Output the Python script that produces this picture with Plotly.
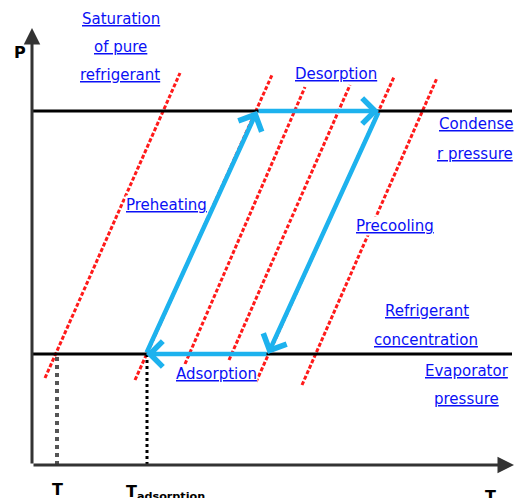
import plotly.graph_objects as go

# Schematic P-T (Clapeyron) diagram of an adsorption refrigeration cycle.
# Temperature and pressure are in arbitrary units.

P_COND = 354   # condenser pressure
P_EVAP = 111   # evaporator pressure
T_MAX = 480    # end of the temperature axis
P_MAX = 437    # end of the pressure axis

# isosteres (constant refrigerant concentration): lower and upper ends
iso_T0 = [13, 103, 153, 197, 224, 270]
iso_P0 = [87, 85, 101, 105, 83, 80]
iso_T1 = [148, 240, 273, 318, 362, 405]
iso_P1 = [392, 390, 378, 380, 388, 387]

# cycle corners, in order: preheating, desorption, precooling, adsorption
cyc_T = [114, 225, 347, 236]
cyc_P = [P_EVAP, P_COND, P_COND, P_EVAP]

T_SAT = 25     # saturation temperature at evaporator pressure
T_ADS = 115    # end-of-adsorption temperature

BLUE_TXT = "#0a10f5"
CYCLE = "#1db2ee"
FONT = "DejaVu Sans"

fig = go.Figure()

# constant-concentration lines
for t0, p0, t1, p1 in zip(iso_T0, iso_P0, iso_T1, iso_P1):
    fig.add_trace(go.Scatter(x=[t0, t1], y=[p0, p1], mode="lines",
                             line=dict(color="#ff1a1a", width=3, dash="4px,2px"),
                             hoverinfo="skip", showlegend=False))

# condenser and evaporator pressure levels
for p in (P_COND, P_EVAP):
    fig.add_trace(go.Scatter(x=[0, T_MAX], y=[p, p], mode="lines",
                             line=dict(color="black", width=3),
                             hoverinfo="skip", showlegend=False))

# temperature drop-lines
fig.add_trace(go.Scatter(x=[T_SAT, T_SAT], y=[0, P_EVAP], mode="lines",
                         line=dict(color="#555555", width=4, dash="dot"),
                         hoverinfo="skip", showlegend=False))
fig.add_trace(go.Scatter(x=[T_ADS, T_ADS], y=[0, P_EVAP], mode="lines",
                         line=dict(color="black", width=3, dash="dot"),
                         hoverinfo="skip", showlegend=False))

annotations = []

# cycle arrows
n = len(cyc_T)
for i in range(n):
    j = (i + 1) % n
    annotations.append(dict(
        x=cyc_T[j], y=cyc_P[j], ax=cyc_T[i], ay=cyc_P[i],
        xref="x", yref="y", axref="x", ayref="y",
        text="", showarrow=True, arrowhead=4, arrowsize=1.1,
        arrowwidth=4.5, arrowcolor=CYCLE, standoff=0, startstandoff=0))

# axes with arrow tips
for (x, y) in ((0, P_MAX), (T_MAX + 2, 0)):
    annotations.append(dict(
        x=x, y=y, ax=0, ay=0, xref="x", yref="y", axref="x", ayref="y",
        text="", showarrow=True, arrowhead=2, arrowsize=1.1,
        arrowwidth=3, arrowcolor="#333333", standoff=0))

# underlined blue labels
labels = [
    ("Saturation", 89, 446), ("of pure", 88, 418), ("refrigerant", 88, 390),
    ("Desorption", 304, 391),
    ("Condense", 444, 341), ("r pressure", 443, 311),
    ("Preheating", 134, 260),
    ("Precooling", 363, 239),
    ("Refrigerant", 395, 154), ("concentration", 394, 125),
    ("Evaporator", 435, 94), ("pressure", 434, 66),
    ("Adsorption", 184, 91),
]
for txt, x, y in labels:
    annotations.append(dict(
        x=x, y=y, xref="x", yref="y", text=f"<u>{txt}</u>", showarrow=False,
        font=dict(family=FONT, size=15, color=BLUE_TXT),
        bgcolor="white", borderpad=0))

# axis titles
axis_txt = [
    ("<b>P</b>", -12, 413, "middle"),
    ("<b>T</b>", 25, -24, "middle"),
    ("<b>T<sub>adsorption</sub></b>", 133, -15, "top"),
    ("<b>T</b>", 458, -20, "top"),
]
for txt, x, y, ya in axis_txt:
    annotations.append(dict(
        x=x, y=y, xref="x", yref="y", text=txt, showarrow=False,
        yanchor=ya, font=dict(family=FONT, size=16, color="black")))

fig.update_layout(
    width=518, height=498,
    margin=dict(l=0, r=0, t=0, b=0),
    paper_bgcolor="white", plot_bgcolor="white",
    xaxis=dict(range=[-32, 486], visible=False, fixedrange=True),
    yaxis=dict(range=[-33, 465], visible=False, fixedrange=True),
    annotations=annotations,
    showlegend=False,
)

fig.write_html("out.html")
